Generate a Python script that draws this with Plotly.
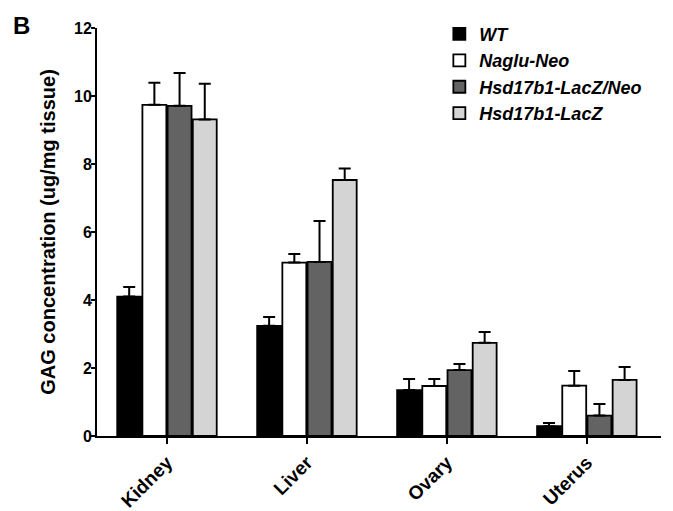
import plotly.graph_objects as go

categories = ["Kidney", "Liver", "Ovary", "Uterus"]
series_names = ["WT", "Naglu-Neo", "Hsd17b1-LacZ/Neo", "Hsd17b1-LacZ"]
values = {
    "WT": [4.10, 3.24, 1.35, 0.29],
    "Naglu-Neo": [9.74, 5.10, 1.47, 1.48],
    "Hsd17b1-LacZ/Neo": [9.71, 5.12, 1.94, 0.60],
    "Hsd17b1-LacZ": [9.31, 7.53, 2.74, 1.65],
}
errors = {
    "WT": [0.28, 0.26, 0.33, 0.09],
    "Naglu-Neo": [0.65, 0.25, 0.21, 0.43],
    "Hsd17b1-LacZ/Neo": [0.97, 1.20, 0.18, 0.34],
    "Hsd17b1-LacZ": [1.05, 0.34, 0.32, 0.38],
}
colors = {
    "WT": "#000000",
    "Naglu-Neo": "#ffffff",
    "Hsd17b1-LacZ/Neo": "#636363",
    "Hsd17b1-LacZ": "#d4d4d4",
}
y_ticks = [0, 2, 4, 6, 8, 10, 12]

FONT = "Arial, Liberation Sans, sans-serif"

fig = go.Figure()
for name in series_names:
    fig.add_trace(go.Bar(
        x=categories,
        y=values[name],
        name=f"<b><i>{name}</i></b>",
        marker=dict(color=colors[name], line=dict(color="#000000", width=1.8)),
        error_y=dict(type="data", symmetric=False, array=errors[name],
                     arrayminus=[0] * len(categories),
                     color="#000000", thickness=2, width=6),
    ))

# page body has an 8px margin, so the figure is sized 8px smaller
fig.update_layout(
    width=665, height=503,
    margin=dict(l=89, r=12, t=20, b=75, autoexpand=False),
    paper_bgcolor="white", plot_bgcolor="white",
    barmode="group", bargap=0.28, bargroupgap=0.05,
    font=dict(family=FONT, color="#000000"),
    legend=dict(x=0.607, y=1.03, xanchor="left", yanchor="top",
                font=dict(size=18, family=FONT), bgcolor="rgba(0,0,0,0)",
                tracegroupgap=0, itemwidth=30),
    showlegend=True,
)
fig.update_xaxes(
    type="category", range=[-0.5, 3.53],
    showline=True, linecolor="#000000", linewidth=2,
    ticks="outside", ticklen=6, tickwidth=2, tickcolor="#000000",
    tickangle=-45, tickfont=dict(size=19, family=FONT, weight="bold"),
    showgrid=False, zeroline=False,
)
fig.update_yaxes(
    range=[0, 12], tickvals=y_ticks,
    showline=True, linecolor="#000000", linewidth=2,
    ticks="outside", ticklen=4, tickwidth=2, tickcolor="#000000",
    ticklabelstandoff=-4,
    tickfont=dict(size=16, family=FONT, weight="bold"),
    showgrid=False, zeroline=False,
    title=dict(text="<b>GAG concentration (ug/mg tissue)</b>",
               font=dict(size=20, family=FONT), standoff=13),
)
fig.add_annotation(text="<b>B</b>", xref="paper", yref="paper",
                   x=-0.152, y=1.044, xanchor="left", yanchor="top",
                   showarrow=False, font=dict(size=24, family=FONT))

fig.write_html("out.html")
